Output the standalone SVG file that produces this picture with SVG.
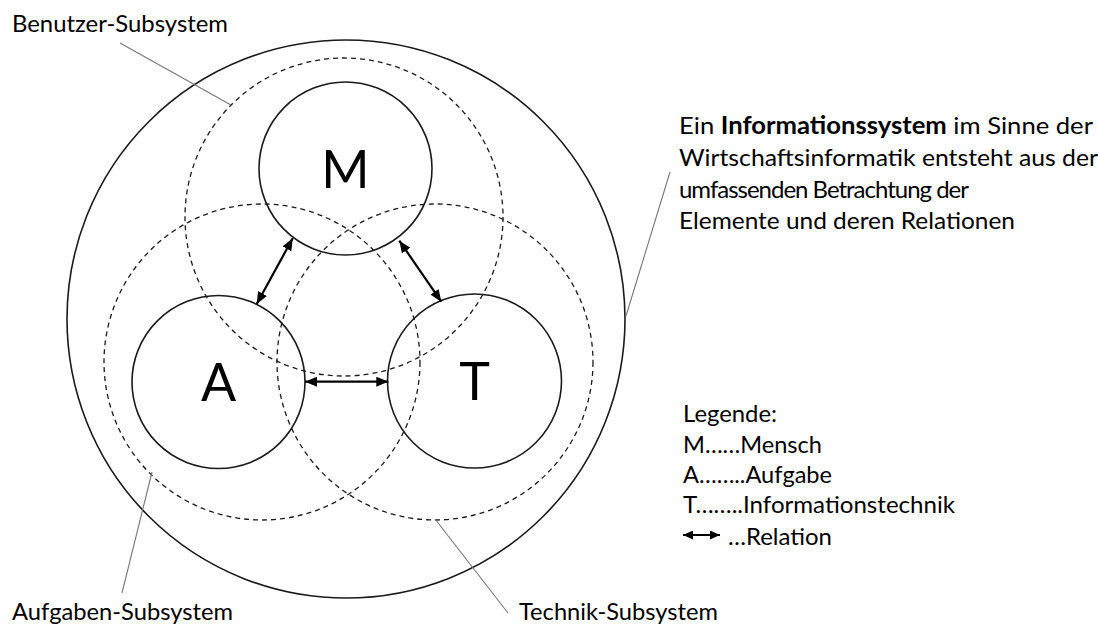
<svg xmlns="http://www.w3.org/2000/svg" width="1098" height="626" viewBox="0 0 1098 626">
  <style>
    .solid { fill: none; stroke: #1a1a1a; stroke-width: 1.6; }
    .dashed { fill: none; stroke: #1a1a1a; stroke-width: 1.3; stroke-dasharray: 5 4; }
    .leader { fill: none; stroke: #777; stroke-width: 1.1; }
    .rel { stroke: #000; stroke-width: 2.2; fill: none; }
    .lbl { font-family: Lato, "Open Sans", sans-serif; font-size: 24px; fill: #000; }
    .big { font-family: Lato, "Open Sans", sans-serif; font-size: 52px; fill: #000; text-anchor: middle; }
  </style>
  <defs>
    <marker id="head" viewBox="0 0 12 10" refX="12" refY="5" markerWidth="12" markerHeight="10" markerUnits="userSpaceOnUse" orient="auto-start-reverse">
      <path d="M0,0 L12,5 L0,10 Z" fill="#000"/>
    </marker>
    <marker id="headSmall" viewBox="0 0 10 9" refX="10" refY="4.5" markerWidth="10" markerHeight="9" markerUnits="userSpaceOnUse" orient="auto-start-reverse">
      <path d="M0,0 L10,4.5 L0,9 Z" fill="#000"/>
    </marker>
  </defs>

  <rect width="1098" height="626" fill="#fff"/>

  <!-- overall information system -->
  <g id="informationssystem">
    <circle class="solid" cx="346" cy="319" r="279"/>
  </g>

  <!-- subsystems (dashed) -->
  <g id="benutzer-subsystem">
    <circle class="dashed" cx="344" cy="217" r="159"/>
  </g>
  <g id="aufgaben-subsystem">
    <circle class="dashed" cx="262" cy="362" r="158"/>
  </g>
  <g id="technik-subsystem">
    <circle class="dashed" cx="435" cy="362" r="158"/>
  </g>

  <!-- elements -->
  <g id="mensch">
    <circle class="solid" cx="345.5" cy="168.5" r="86.5"/>
    <text class="big" x="345.5" y="188">M</text>
  </g>
  <g id="aufgabe">
    <circle class="solid" cx="218.5" cy="382" r="86.5"/>
    <text class="big" x="218.5" y="401">A</text>
  </g>
  <g id="technik">
    <circle class="solid" cx="474.5" cy="381" r="87"/>
    <text class="big" x="474.5" y="400">T</text>
  </g>

  <!-- relations and leader lines -->
  <g id="connectors">
    <line class="rel" x1="292.7" y1="238.3" x2="256.7" y2="304" marker-start="url(#head)" marker-end="url(#head)"/>
    <line class="rel" x1="399.3" y1="240.7" x2="441.3" y2="301.7" marker-start="url(#head)" marker-end="url(#head)"/>
    <line class="rel" x1="305" y1="381.7" x2="388.3" y2="381.7" marker-start="url(#head)" marker-end="url(#head)"/>

    <line class="leader" x1="120" y1="43" x2="231" y2="105"/>
    <line class="leader" x1="152" y1="472" x2="122" y2="593"/>
    <line class="leader" x1="435" y1="519" x2="508" y2="613"/>
    <line class="leader" x1="670" y1="172" x2="626" y2="316"/>
  </g>

  <!-- labels -->
  <g id="labels">
    <text class="lbl" x="12" y="32" textLength="216" lengthAdjust="spacingAndGlyphs">Benutzer-Subsystem</text>
    <text class="lbl" x="12" y="620" textLength="221" lengthAdjust="spacingAndGlyphs">Aufgaben-Subsystem</text>
    <text class="lbl" x="519" y="620" textLength="199" lengthAdjust="spacingAndGlyphs">Technik-Subsystem</text>
  </g>

  <g id="beschreibung">
    <text class="lbl" x="679" y="134" textLength="414" lengthAdjust="spacingAndGlyphs">Ein <tspan font-weight="bold">Informationssystem</tspan> im Sinne der</text>
    <text class="lbl" x="679" y="166" textLength="419" lengthAdjust="spacingAndGlyphs">Wirtschaftsinformatik entsteht aus der</text>
    <text class="lbl" x="679" y="198" textLength="290" lengthAdjust="spacing">umfassenden Betrachtung der</text>
    <text class="lbl" x="679" y="229" textLength="336" lengthAdjust="spacingAndGlyphs">Elemente und deren Relationen</text>
  </g>

  <g id="legende">
    <text class="lbl" x="683" y="422" textLength="94" lengthAdjust="spacingAndGlyphs">Legende:</text>
    <text class="lbl" x="683" y="453" textLength="139" lengthAdjust="spacingAndGlyphs">M……Mensch</text>
    <text class="lbl" x="683" y="483" textLength="149" lengthAdjust="spacingAndGlyphs">A……..Aufgabe</text>
    <text class="lbl" x="683" y="513" textLength="272" lengthAdjust="spacingAndGlyphs">T……..Informationstechnik</text>
    <line class="rel" x1="683" y1="535" x2="720" y2="535" marker-start="url(#headSmall)" marker-end="url(#headSmall)"/>
    <text class="lbl" x="728" y="545" textLength="104" lengthAdjust="spacingAndGlyphs">…Relation</text>
  </g>
</svg>
